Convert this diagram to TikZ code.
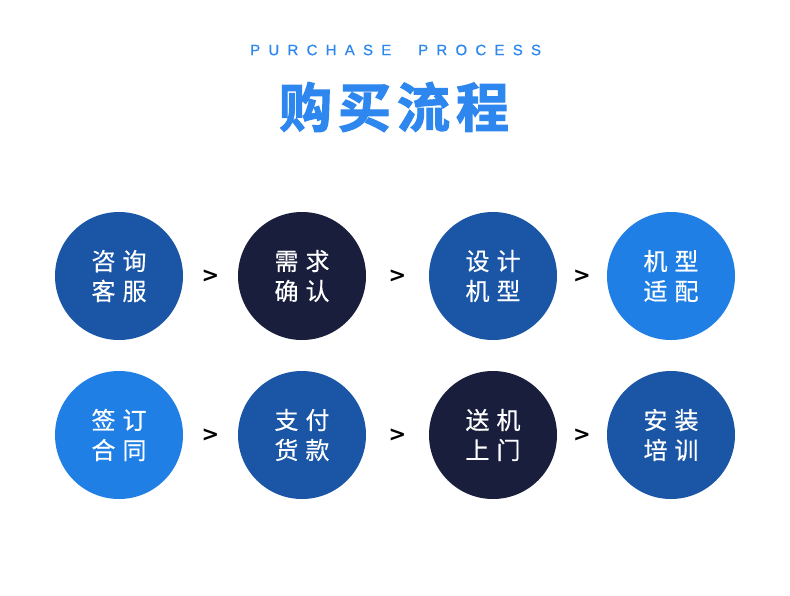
\documentclass[tikz,border=0pt]{standalone}
\usepackage{fontspec}
\usetikzlibrary{calc}
\newfontfamily\cjk[FakeBold=0.4]{Noto Sans CJK SC}
\newfontfamily\cjkb[FakeBold=2.2]{Noto Sans CJK SC Bold}
\newfontfamily\latinsp[LetterSpace=55,FakeBold=0.6]{Liberation Sans}
\newfontfamily\gtfont{DejaVu Sans Bold}
\definecolor{cblue}{HTML}{1A55A6}
\definecolor{cnavy}{HTML}{181E3B}
\definecolor{clight}{HTML}{1F7FE4}
\definecolor{ctitle}{HTML}{2D87EE}
\newcommand{\twoch}[4]{#1\hspace{7pt}#2\\#3\hspace{7pt}#4}
\tikzset{
  stepcirc/.style={circle, minimum size=128pt, inner sep=0pt, text=white,
    font=\cjk\fontsize{24}{30}\selectfont, align=center},
  gt/.style={font=\gtfont\fontsize{21}{21}\selectfont, text=black, inner sep=0pt},
  subttl/.style={text=ctitle, font=\latinsp\fontsize{15}{15}\selectfont, anchor=west, inner sep=0pt}
}
\begin{document}
\begin{tikzpicture}[x=1pt,y=-1pt]
\useasboundingbox[fill=white] (0,0) rectangle (790,595);
\node[subttl] (sub1) at (250,50) {PURCHASE};
\node[subttl] (sub2) at (418,50) {PROCESS};
\node[text=ctitle, font=\cjkb\fontsize{53}{53}\selectfont] (title) at (394,107) {购\hspace{6pt}买\hspace{6pt}流\hspace{6pt}程};
% row 1
\node[stepcirc, fill=cblue]  (a1) at (119,276) {\twoch{咨}{询}{客}{服}};
\node[stepcirc, fill=cnavy]  (a2) at (302,276) {\twoch{需}{求}{确}{认}};
\node[stepcirc, fill=cblue]  (a3) at (493,276) {\twoch{设}{计}{机}{型}};
\node[stepcirc, fill=clight] (a4) at (671,276) {\twoch{机}{型}{适}{配}};
% row 2
\node[stepcirc, fill=clight] (b1) at (119,435) {\twoch{签}{订}{合}{同}};
\node[stepcirc, fill=cblue]  (b2) at (302,435) {\twoch{支}{付}{货}{款}};
\node[stepcirc, fill=cnavy]  (b3) at (493,435) {\twoch{送}{机}{上}{门}};
\node[stepcirc, fill=cblue]  (b4) at (671,435) {\twoch{安}{装}{培}{训}};
% arrows
\node[gt] (g1) at ($(a1)!0.5!(a2)$) {>};
\node[gt] (g2) at ($(a2)!0.5!(a3)$) {>};
\node[gt] (g3) at ($(a3)!0.5!(a4)$) {>};
\node[gt] (h1) at ($(b1)!0.5!(b2)$) {>};
\node[gt] (h2) at ($(b2)!0.5!(b3)$) {>};
\node[gt] (h3) at ($(b3)!0.5!(b4)$) {>};
\end{tikzpicture}
\end{document}
